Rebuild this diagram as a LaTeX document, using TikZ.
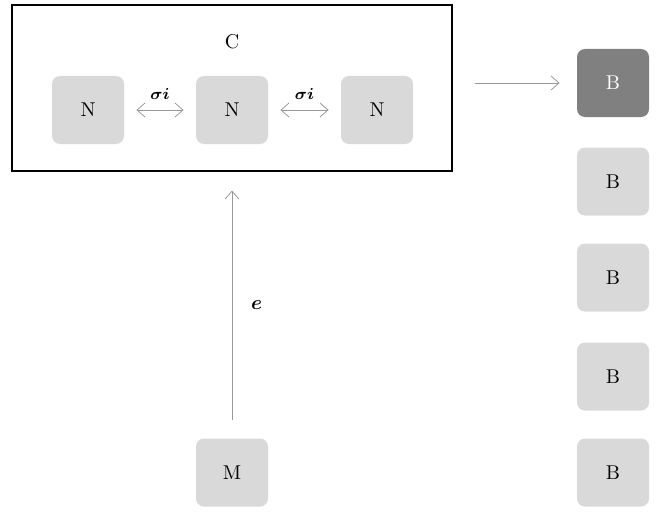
\documentclass[tikz,border=0pt]{standalone}
\usepackage{amsmath, amssymb}
\usepackage{xcolor}
\usetikzlibrary{arrows.meta}
\tikzset{
 blk/.style={fill=black!15, rounded corners=4pt, minimum width=36pt, minimum height=34pt, inner sep=0pt},
 blkdark/.style={blk, fill=black!50, text=white},
 lnk/.style={draw=black!40, -{Straight Barb[length=4pt,width=7pt]}},
 lnkboth/.style={draw=black!40, {Straight Barb[length=4pt,width=7pt]}-{Straight Barb[length=4pt,width=7pt]}},
 lbl/.style={font=\footnotesize}
}

\begin{document}
\begin{tikzpicture}[x=0.5pt,y=0.5pt]
\useasboundingbox (0,0) rectangle (656,515);

% cluster box with its three nodes
\node[draw, line width=0.55pt, minimum width=220pt, minimum height=83pt, inner sep=0pt] (clu) at (232,427) {};
\node (ctitle) at (232,473) {C};

\node[blk] (n1) at ( 88,405) {N};
\node[blk] (n2) at (232,405) {N};
\node[blk] (n3) at (377,405) {N};

\draw[lnkboth, shorten <=6pt, shorten >=6pt] (n1) -- node[lbl, above=1.5pt] {$\boldsymbol{\sigma i}$} (n2);
\draw[lnkboth, shorten <=6pt, shorten >=6pt] (n2) -- node[lbl, above=1.5pt] {$\boldsymbol{\sigma i}$} (n3);

% right column
\node[blkdark] (b1) at (613,432) {B};
\node[blk] (b2) at (613,333.5) {B};
\node[blk] (b3) at (613,237.5) {B};
\node[blk] (b4) at (613,138.5) {B};
\node[blk] (b5) at (613,42.5) {B};

\draw[lnk, shorten <=11pt, shorten >=8.5pt] (clu.east |- b1) -- (b1.west);

% bottom
\node[blk] (m) at (232,42.5) {M};

\draw[lnk, shorten <=9pt, shorten >=9.5pt] (m.north) -- node[right=6pt] {$\boldsymbol{e}$} (clu.south);

\end{tikzpicture}
\end{document}
